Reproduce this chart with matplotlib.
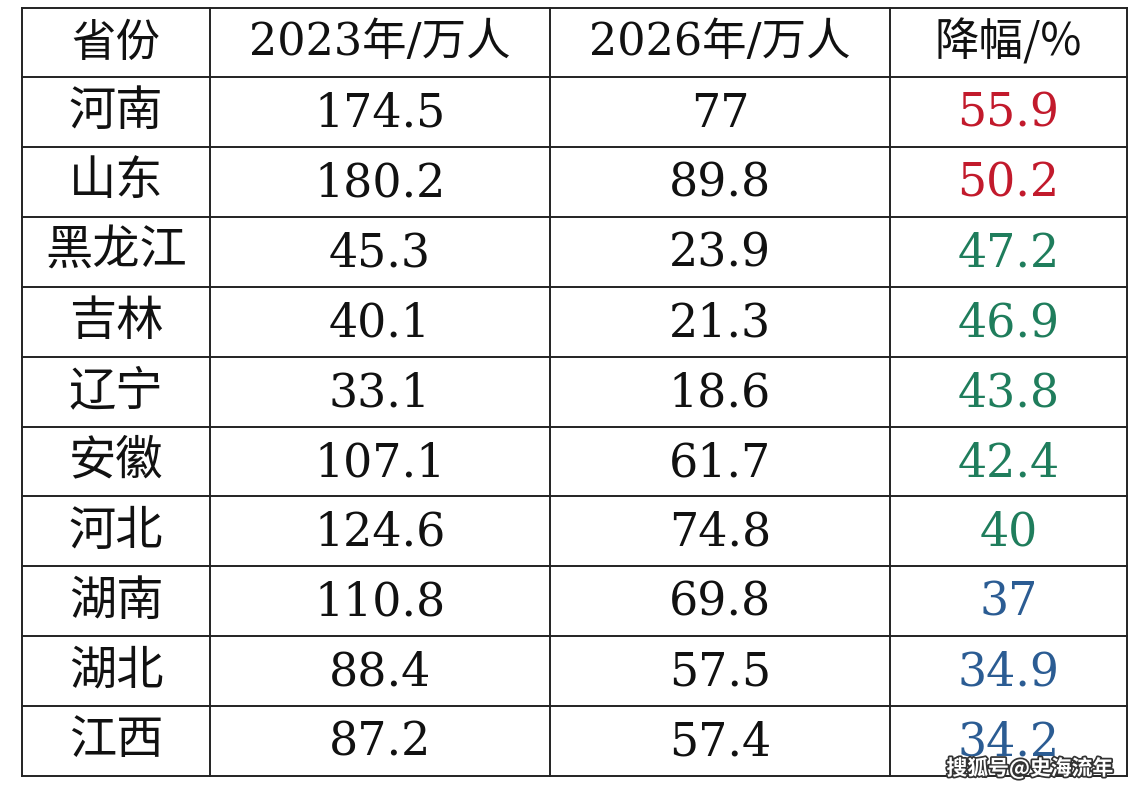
import matplotlib
matplotlib.use("Agg")
import matplotlib.pyplot as plt
import matplotlib.patheffects as pe

headers = ["省份", "2023年/万人", "2026年/万人", "降幅/%"]
provinces = ["河南", "山东", "黑龙江", "吉林", "辽宁", "安徽", "河北", "湖南", "湖北", "江西"]
v2023 = ["174.5", "180.2", "45.3", "40.1", "33.1", "107.1", "124.6", "110.8", "88.4", "87.2"]
v2026 = ["77", "89.8", "23.9", "21.3", "18.6", "61.7", "74.8", "69.8", "57.5", "57.4"]
drop = ["55.9", "50.2", "47.2", "46.9", "43.8", "42.4", "40", "37", "34.9", "34.2"]

plt.rcParams['font.family'] = ['Noto Sans CJK SC', 'DejaVu Sans']
numfont = ['DejaVu Serif', 'Noto Sans CJK SC']
fig = plt.figure(figsize=(11.42, 7.94), dpi=100)
ax = fig.add_axes([0, 0, 1, 1])
ax.set_xlim(0, 1142); ax.set_ylim(794, 0); ax.axis('off')

xs = [22, 210, 550, 890, 1127]
y0, yh, rh = 8, 77, 69.9
ys = [y0, yh] + [yh + rh * (i + 1) for i in range(len(provinces))]
for x in xs:
    ax.plot([x, x], [ys[0], ys[-1]], color='#222222', lw=1.4)
for y in ys:
    ax.plot([xs[0], xs[-1]], [y, y], color='#222222', lw=1.4)

def col(v):
    v = float(v)
    if v >= 50: return '#c21a2c'
    if v >= 40: return '#1f7d5c'
    return '#2b5c93'

cx = [(xs[i] + xs[i + 1]) / 2 for i in range(4)]
for j, h in enumerate(headers):
    ax.text(cx[j], (ys[0] + ys[1]) / 2, h, ha='center', va='center', fontsize=32,
            color='#111111', family=(numfont if j in (1, 2) else ['Noto Sans CJK SC', 'DejaVu Sans']))
for i in range(len(provinces)):
    yc = (ys[i + 1] + ys[i + 2]) / 2
    ax.text(cx[0], yc, provinces[i], ha='center', va='center', fontsize=34, color='#111111')
    ax.text(cx[1], yc + 2, v2023[i], ha='center', va='center', fontsize=33, color='#111111', family=numfont)
    ax.text(cx[2], yc + 2, v2026[i], ha='center', va='center', fontsize=33, color='#111111', family=numfont)
    ax.text(cx[3], yc + 2, drop[i], ha='center', va='center', fontsize=33, color=col(drop[i]), family=numfont)

ax.text(1030, 768, "搜狐号@史海流年", ha='center', va='center', fontsize=15, color='white',
        weight='bold', path_effects=[pe.withStroke(linewidth=2.5, foreground='#333333')])
fig.savefig("out.png", dpi=100)
